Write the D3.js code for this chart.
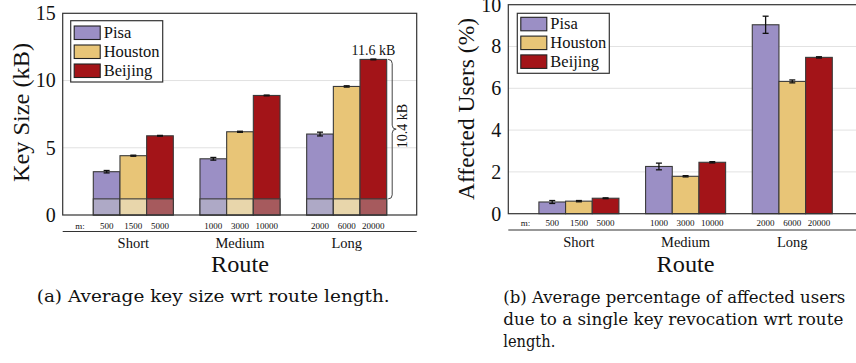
<!DOCTYPE html>
<html><head><meta charset="utf-8">
<script src="https://cdn.jsdelivr.net/npm/d3@7"></script>
<style>body{margin:0;background:#fff}svg{display:block}</style>
</head><body>
<svg id="c" width="856" height="363"></svg>
<script>
// ---------- data ----------
const categories = ["Short", "Medium", "Long"];
const series = ["Pisa", "Houston", "Beijing"];
const mLabels = [["500","1500","5000"],["1000","3000","10000"],["2000","6000","20000"]];
// key size (kB) per series per category
const keyPisa = [3.22, 4.18, 6.02];
const keyHouston = [4.41, 6.19, 9.56];
const keyBeijing = [5.89, 8.89, 11.57];
const keyErrPisa = [0.09, 0.10, 0.14];
const keyErrHouston = [0.04, 0.04, 0.05];
const keyErrBeijing = [0.03, 0.03, 0.03];
const keyBase = 1.2;
// affected users (%)
const affPisa = [0.56, 2.26, 9.04];
const affHouston = [0.60, 1.79, 6.33];
const affBeijing = [0.74, 2.46, 7.48];
const affErrPisa = [0.07, 0.16, 0.41];
const affErrHouston = [0.03, 0.03, 0.07];
const affErrBeijing = [0.02, 0.03, 0.03];
const keyTicks = [0, 5, 10, 15];
const affTicks = [0, 2, 4, 6, 8, 10];
const annotTop = "11.6 kB";
const annotSpan = "10.4 kB";

const FONT = "'Liberation Serif', serif";
const CAPFONT = "'DejaVu Serif', serif";
const colors = {Pisa:"#9b8fc5", Houston:"#e8c577", Beijing:"#a31418"};
const baseColors = {Pisa:"#aea9c6", Houston:"#e8d6ab", Beijing:"#a65a5d"};

const svg = d3.select("#c");

function panel(opt){
  const g = svg.append("g").attr("font-family", FONT).attr("fill", "#111");
  const {left, right, top, bottom} = opt;
  const y = d3.scaleLinear().domain(opt.domain).range([bottom, top]);
  const x = d3.scaleBand().domain(categories).range([left + 30.6, left + 324]).paddingInner(0.25).paddingOuter(0);
  const xs = d3.scaleBand().domain(series).range([0, x.bandwidth()]);
  g.selectAll(".grid").data(opt.ticks.slice(1, -1)).join("line")
    .attr("x1", left).attr("x2", right).attr("y1", d=>y(d)).attr("y2", d=>y(d))
    .attr("stroke", "#e2e2e2").attr("stroke-width", 1);
  const ax = g.append("g").attr("transform", `translate(${left},0)`)
    .call(d3.axisLeft(y).tickValues(opt.ticks).tickSize(0).tickPadding(7));
  ax.attr("font-family", FONT);
  ax.select(".domain").remove();
  ax.selectAll("text").attr("font-family", FONT).attr("font-size", 20).attr("fill","#111");
  const rows = [];
  categories.forEach((c,i)=>series.forEach((s,j)=>rows.push({c, s, v: opt.vals[j][i], e: opt.errs[j][i], m: mLabels[i][j]})));
  const bars = g.selectAll(".bar").data(rows).join("g");
  bars.append("rect")
    .attr("x", d=>x(d.c)+xs(d.s)).attr("width", xs.bandwidth())
    .attr("y", d=>y(d.v)).attr("height", d=>y(0)-y(d.v))
    .attr("fill", d=>colors[d.s]).attr("stroke", "#3a3a3a").attr("stroke-width", 1.1);
  if (opt.base != null) {
    bars.append("rect")
      .attr("x", d=>x(d.c)+xs(d.s)).attr("width", xs.bandwidth())
      .attr("y", y(opt.base)).attr("height", y(0)-y(opt.base))
      .attr("fill", d=>baseColors[d.s]).attr("stroke", "#3a3a3a").attr("stroke-width", 1.1);
  }
  const eb = g.selectAll(".eb").data(rows).join("g").attr("stroke","#111").attr("stroke-width",1.3);
  const cx = d=>x(d.c)+xs(d.s)+xs.bandwidth()/2;
  eb.append("line").attr("x1",cx).attr("x2",cx).attr("y1",d=>y(d.v+d.e)).attr("y2",d=>y(d.v-d.e));
  eb.append("line").attr("x1",d=>cx(d)-3).attr("x2",d=>cx(d)+3).attr("y1",d=>y(d.v+d.e)).attr("y2",d=>y(d.v+d.e));
  eb.append("line").attr("x1",d=>cx(d)-3).attr("x2",d=>cx(d)+3).attr("y1",d=>y(d.v-d.e)).attr("y2",d=>y(d.v-d.e));
  g.append("rect").attr("x", left).attr("y", top).attr("width", right-left).attr("height", bottom-top)
    .attr("fill","none").attr("stroke","#333").attr("stroke-width",1.2);
  g.append("text").attr("x", x("Short") - xs.bandwidth()/2).attr("y", opt.mY).attr("text-anchor","middle")
    .attr("font-size", 9).text("m:");
  g.selectAll(".ml").data(rows).join("text").attr("x", cx).attr("y", opt.mY)
    .attr("text-anchor","middle").attr("font-size", 9).text(d=>d.m);
  g.append("line").attr("x1", left).attr("x2", right).attr("y1", opt.sepY).attr("y2", opt.sepY)
    .attr("stroke","#333").attr("stroke-width",1.2);
  g.selectAll(".cl").data(categories).join("text").attr("x", d=>x(d)+x.bandwidth()/2).attr("y", opt.catY)
    .attr("text-anchor","middle").attr("font-size", 14.5).text(d=>d);
  g.append("text").attr("x", (x("Short")+x("Long")+x.bandwidth())/2).attr("y", 272)
    .attr("text-anchor","middle").attr("font-size", 23).attr("textLength", 58).attr("lengthAdjust","spacingAndGlyphs").text("Route");
  g.append("text").attr("transform", `translate(${opt.titleX},${opt.titleY}) rotate(-90)`)
    .attr("text-anchor","middle").attr("font-size", 22.5).attr("textLength", opt.titleLen).attr("lengthAdjust","spacingAndGlyphs").text(opt.title);
  const L = opt.legend;
  g.append("rect").attr("x", L.x).attr("y", L.y).attr("width", 92).attr("height", L.h)
    .attr("fill","#fff").attr("stroke","#333").attr("stroke-width",1.2);
  const li = g.selectAll(".li").data(series).join("g").attr("transform",(d,i)=>`translate(${L.x+3.5},${L.y+L.first+i*L.step})`);
  li.append("rect").attr("width", 26).attr("height", 13.5).attr("fill", d=>colors[d]).attr("stroke","#222").attr("stroke-width",1.1);
  li.append("text").attr("x", 29.5).attr("y", 12).attr("font-size", 16.5).text(d=>d);
  return {x, xs, y, g};
}

const A = panel({left:62.7, right:416.7, top:13.3, bottom:215, domain:[0,15], ticks:keyTicks,
  vals:[keyPisa, keyHouston, keyBeijing], errs:[keyErrPisa, keyErrHouston, keyErrBeijing], base:keyBase,
  mY:228.5, sepY:231.5, catY:248, title:"Key Size (kB)", titleX:29, titleY:112.5, titleLen:139,
  legend:{x:70.7, y:20.7, h:61.3, first:5.3, step:19}});

const B = panel({left:508.3, right:870, top:4.7, bottom:213.7, domain:[0,10], ticks:affTicks,
  vals:[affPisa, affHouston, affBeijing], errs:[affErrPisa, affErrHouston, affErrBeijing], base:null,
  mY:225.5, sepY:230, catY:247, title:"Affected Users (%)", titleX:474, titleY:109, titleLen:182,
  legend:{x:517.3, y:13.3, h:60, first:4, step:18.8}});

{
  const {x, xs, y, g} = A;
  const bx = x("Long") + x.bandwidth() + 1.5;
  const y1 = y(keyBeijing[2]), y2 = y(keyBase), ym = (y1+y2)/2, w = 8;
  const p = d3.path();
  p.moveTo(bx, y1);
  p.quadraticCurveTo(bx+w/2, y1, bx+w/2, y1+w/2);
  p.lineTo(bx+w/2, ym-w/2);
  p.quadraticCurveTo(bx+w/2, ym, bx+w, ym);
  p.quadraticCurveTo(bx+w/2, ym, bx+w/2, ym+w/2);
  p.lineTo(bx+w/2, y2-w/2);
  p.quadraticCurveTo(bx+w/2, y2, bx, y2);
  g.append("path").attr("d", p.toString()).attr("fill","none").attr("stroke","#444").attr("stroke-width",1);
  g.append("text").attr("x", x("Long")+xs("Beijing")+xs.bandwidth()/2).attr("y", y1-4)
    .attr("text-anchor","middle").attr("font-size", 14).text(annotTop);
  g.append("text").attr("transform", `translate(${bx+w+11},${ym-3}) rotate(-90)`)
    .attr("text-anchor","middle").attr("font-size", 14).text(annotSpan);
}

const cap = svg.append("g").attr("font-family", CAPFONT).attr("fill", "#111");
cap.append("text").attr("x", 36.7).attr("y", 302).attr("font-size", 17.5)
  .attr("textLength", 353).attr("lengthAdjust","spacingAndGlyphs").text("(a) Average key size wrt route length.");
const capB = ["(b) Average percentage of affected users", "due to a single key revocation wrt route", "length."];
const capLen = [342, 340, 52];
cap.selectAll(".capb").data(capB).join("text").attr("x", 503.3).attr("y", (d,i)=>302.5+i*22.2)
  .attr("font-size", 16.5).attr("textLength", (d,i)=>capLen[i]).attr("lengthAdjust","spacingAndGlyphs").text(d=>d);
</script>
</body></html>
